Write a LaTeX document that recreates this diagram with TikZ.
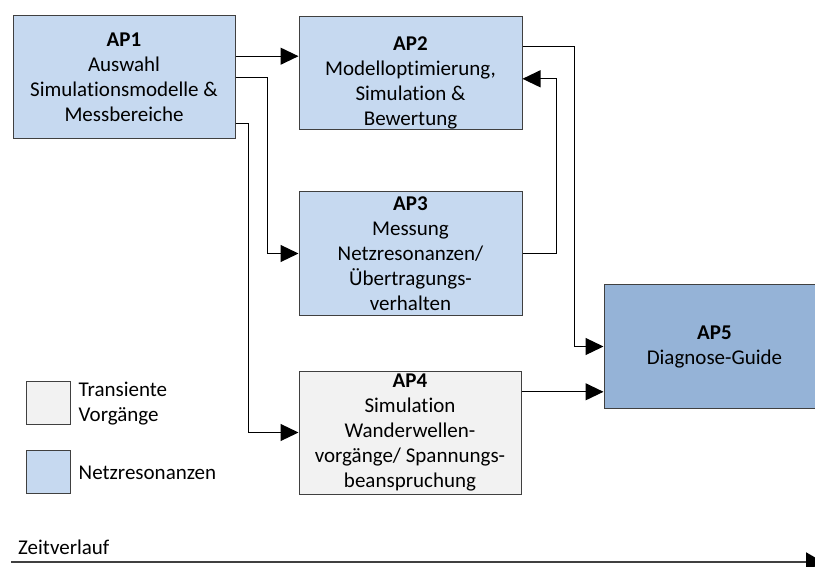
\documentclass[tikz,border=0pt]{standalone}
\usepackage{fontspec}
\setmainfont{Carlito}[RawFeature={-liga}]
\usetikzlibrary{arrows.meta,calc}
\definecolor{lblue}{HTML}{C6D9F0}
\definecolor{dblue}{HTML}{95B3D7}
\definecolor{lgray}{HTML}{F2F2F2}
\definecolor{bord}{HTML}{404040}
\tikzset{
  apbox/.style={draw=bord, line width=1pt, inner sep=0pt, align=center,
    font=\fontsize{21}{25}\selectfont},
  aptxt/.style={inner sep=0pt, align=center, font=\fontsize{21}{25}\selectfont},
  legbox/.style={draw=bord, line width=1pt, minimum width=44pt, minimum height=43pt, inner sep=0pt},
  legtxt/.style={inner sep=0pt, align=left, anchor=west, font=\fontsize{21}{25}\selectfont},
  arr/.style={line width=1.2pt, -{Triangle[length=18pt,width=17pt]}},
  timeline/.style={line width=2pt, draw=bord, -{Triangle[length=17pt,width=19pt,fill=black,color=black]}}
}
\begin{document}
\begin{tikzpicture}[x=1pt,y=-1pt]
\useasboundingbox (0,0) rectangle (815,567);
\clip (0,0) rectangle (815,567);

\node[apbox, fill=lblue, minimum width=222pt, minimum height=123pt] (ap1) at (124,77.5)
  {\textbf{AP1}\\Auswahl\\Simulationsmodelle \&\\Messbereiche};
\node[apbox, fill=lblue, minimum width=223pt, minimum height=113pt] (ap2) at (410.5,73.5) {};
\node[aptxt] (ap2t) at ([yshift=-9pt]ap2.center)
  {\textbf{AP2}\\Modelloptimierung,\\Simulation \&\\Bewertung};
\node[apbox, fill=lblue, minimum width=223pt, minimum height=123pt] (ap3) at (410.5,253.5)
  {\textbf{AP3}\\Messung\\Netzresonanzen/\\Übertragungs-\\verhalten};
\node[apbox, fill=lgray, minimum width=222pt, minimum height=123pt] (ap4) at (410,432.5)
  {\textbf{AP4}\\Simulation\\Wanderwellen-\\vorgänge/ Spannungs-\\beanspruchung};
\node[apbox, fill=dblue, minimum width=221pt, minimum height=123pt] (ap5) at (714.5,346.5)
  {\textbf{AP5}\\Diagnose-Guide};

% connectors
\draw[arr] ($(ap1.north east)+(0,40.7)$) coordinate (a1) -- (a1 -| ap2.west);
\draw[arr] (ap1.east) -- ++(31.7,0) |- (ap3.west);
\draw[arr] ($(ap1.south east)+(0,-15.7)$) -- ++(13,0) |- (ap4.west);
\draw[arr] (ap3.east) -- ++(34,0) |- ($(ap2.north east)+(0,62.3)$);
\draw[arr] ($(ap2.north east)+(0,29.7)$) -- ++(52,0) |- (ap5.west);
\draw[arr] ($(ap4.north east)+(0,21.3)$) coordinate (b1) -- (b1 -| ap5.west);

% legend
\node[legbox, fill=lgray] (leg1) at (48,402.5) {};
\node[legbox, fill=lblue] (leg2) at (48,472) {};
\node[legtxt] (leg1t) at (78.5,404) {Transiente\\Vorgänge};
\node[legtxt] (leg2t) at (78.5,473) {Netzresonanzen};

% time axis
\coordinate (t0) at (11,562);
\coordinate (t1) at (823,562);
\draw[timeline] (t0) -- (t1);
\node[inner sep=0pt, anchor=base west, font=\fontsize{21}{25}\selectfont] (zt) at (18,554) {Zeitverlauf};
\end{tikzpicture}
\end{document}
